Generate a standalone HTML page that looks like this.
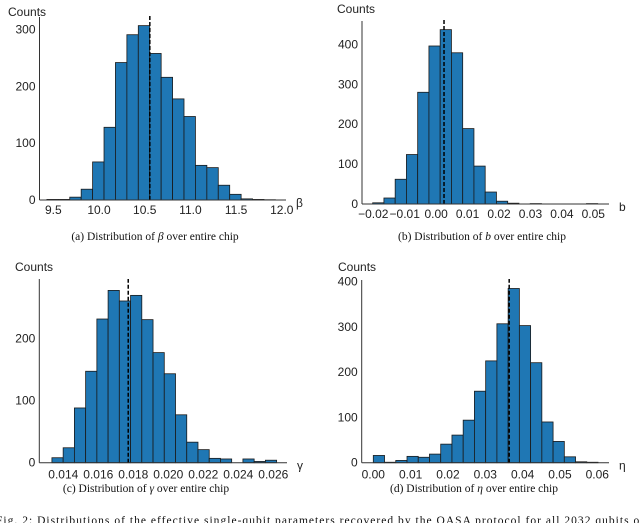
<!DOCTYPE html>
<html><head><meta charset="utf-8"><style>
body{margin:0;background:#fff;width:640px;height:523px;overflow:hidden}
svg{display:block}
.tk{font-family:"Liberation Sans",sans-serif;font-size:12px;fill:#222}
.cap{font-family:"Liberation Serif",serif;font-size:11.5px;fill:#111}
</style></head><body>
<svg id="c" width="640" height="523"></svg>
<script>
// Panel (a) beta
const aCounts=[1,1,5,19,67,128,242,291,307,258,216,178,147,61,57,26,10,2,1,0.5];
const aBinStart=9.43, aBinWidth=0.125, aMedian=10.556;
const aXTicks=[9.5,10.0,10.5,11.0,11.5,12.0];
const aXTickLabels=["9.5","10.0","10.5","11.0","11.5","12.0"];
const aYTicks=[0,100,200,300];
// Panel (b) b
const bCounts=[3,15,62,124,280,396,437,379,189,95,30,7,2,0,1,0,0,0,0,1];
const bBinStart=-0.0202, bBinWidth=0.00358, bMedian=0.0025;
const bXTicks=[-0.02,-0.01,0,0.01,0.02,0.03,0.04,0.05];
const bXTickLabels=["\u22120.02","\u22120.01","0.00","0.01","0.02","0.03","0.04","0.05"];
const bYTicks=[0,100,200,300,400];
// Panel (c) gamma
const cCounts=[8,24,88,147,231,277,260,269,230,177,143,77,33,21,7,6,0,6,2,4];
const cBinStart=0.01335, cBinWidth=0.000642, cMedian=0.01771;
const cXTicks=[0.014,0.016,0.018,0.020,0.022,0.024,0.026];
const cXTickLabels=["0.014","0.016","0.018","0.020","0.022","0.024","0.026"];
const cYTicks=[0,100,200];
// Panel (d) eta
const dCounts=[16,1,5,14,12,19,41,61,94,158,225,307,385,303,221,90,47,13,2,1];
const dBinStart=0.0, dBinWidth=0.00301, dMedian=0.0364;
const dXTicks=[0,0.01,0.02,0.03,0.04,0.05,0.06];
const dXTickLabels=["0.00","0.01","0.02","0.03","0.04","0.05","0.06"];
const dYTicks=[0,100,200,300,400];

const NS="http://www.w3.org/2000/svg";
const svg=document.getElementById('c');
function mk(tag,attrs,parent){const e=document.createElementNS(NS,tag);for(const k in attrs)e.setAttribute(k,attrs[k]);(parent||svg).appendChild(e);return e;}

function panel(cfg){
  const g=mk('g',{});
  
  
  const sx=v=>cfg.px0+(v-cfg.x0)*cfg.pxPerX;
  const sy=v=>cfg.base-v*cfg.pxPerY;
  cfg.counts.forEach((c,i)=>{
    const x1=sx(cfg.binStart+i*cfg.binWidth), x2=sx(cfg.binStart+(i+1)*cfg.binWidth);
    const r=mk('rect',{x:x1,y:sy(c),width:x2-x1,height:cfg.base-sy(c),fill:'#1f77b4',stroke:'#1a1a1a','stroke-width':0.8},g);
    
    
  });
  const mx=sx(cfg.median);
  const ml=mk('line',{x1:mx,x2:mx,y1:cfg.base,y2:cfg.medTop,stroke:'#000','stroke-width':1.5,'stroke-dasharray':'4,2'},g);
  
  
  const ya=mk('line',{x1:cfg.axX,x2:cfg.axX,y1:cfg.axTop,y2:cfg.base,stroke:'#333','stroke-width':1},g);
  
  
  const xa=mk('line',{x1:cfg.axX,x2:cfg.axRight,y1:cfg.base,y2:cfg.base,stroke:'#333','stroke-width':1},g);
  
  
  cfg.yTicks.forEach(v=>{
    const t=mk('text',{x:cfg.axX-4,y:sy(v)+4,'text-anchor':'end',class:'tk'},g);t.textContent=v;
    
    
  });
  cfg.xTicks.forEach((v,i)=>{
    const t=mk('text',{x:sx(v),y:cfg.base+cfg.xlOff,'text-anchor':'middle',class:'tk'},g);t.textContent=cfg.xLabels[i];
    
    
  });
  const yt=mk('text',{x:cfg.countsX,y:cfg.countsY,class:'tk','font-size':'12.5'},g);yt.textContent='Counts';
  
  
  const xt=mk('text',{x:cfg.axRight+10,y:cfg.base+7,class:'tk','font-size':'13'},g);xt.textContent=cfg.sym;
  
  
  const cp=mk('text',{x:cfg.capX,y:cfg.capY,'text-anchor':'middle',class:'cap'},g);
  cp.innerHTML='('+cfg.letter+') Distribution of <tspan font-style="italic">'+cfg.capSym+'</tspan> over entire chip';
  
  
}

panel({name:'panel-beta',counts:aCounts,binStart:aBinStart,binWidth:aBinWidth,median:aMedian,xTicks:aXTicks,xLabels:aXTickLabels,yTicks:aYTicks,xlOff:14,
  x0:9.5,px0:53.3,pxPerX:91.4,base:200,pxPerY:0.568,axX:39.5,axTop:17,axRight:286,medTop:16,countsX:8,countsY:16,sym:'\u03b2',letter:'a',capSym:'\u03b2',capX:155,capY:240});
panel({name:'panel-b',counts:bCounts,binStart:bBinStart,binWidth:bBinWidth,median:bMedian,xTicks:bXTicks,xLabels:bXTickLabels,yTicks:bYTicks,xlOff:14,
  x0:-0.02,px0:373.3,pxPerX:3143,base:204,pxPerY:0.399,axX:362,axTop:21,axRight:609,medTop:20,countsX:337,countsY:13,sym:'b',letter:'b',capSym:'b',capX:482,capY:240});
panel({name:'panel-gamma',counts:cCounts,binStart:cBinStart,binWidth:cBinWidth,median:cMedian,xTicks:cXTicks,xLabels:cXTickLabels,yTicks:cYTicks,xlOff:16,
  x0:0.014,px0:63.3,pxPerX:17500,base:462.7,pxPerY:0.622,axX:39.3,axTop:279,axRight:287,medTop:279,countsX:15,countsY:271,sym:'\u03b3',letter:'c',capSym:'\u03b3',capX:146,capY:492});
panel({name:'panel-eta',counts:dCounts,binStart:dBinStart,binWidth:dBinWidth,median:dMedian,xTicks:dXTicks,xLabels:dXTickLabels,yTicks:dYTicks,xlOff:16,
  x0:0,px0:373.3,pxPerX:3733,base:462.7,pxPerY:0.4525,axX:361.7,axTop:280,axRight:609,medTop:279,countsX:338,countsY:271,sym:'\u03b7',letter:'d',capSym:'\u03b7',capX:474,capY:492});

const fig=mk('text',{x:-4,y:524,class:'cap','textLength':650});
fig.textContent='Fig. 2: Distributions of the effective single-qubit parameters recovered by the QASA protocol for all 2032 qubits on';


</script>
</body></html>
